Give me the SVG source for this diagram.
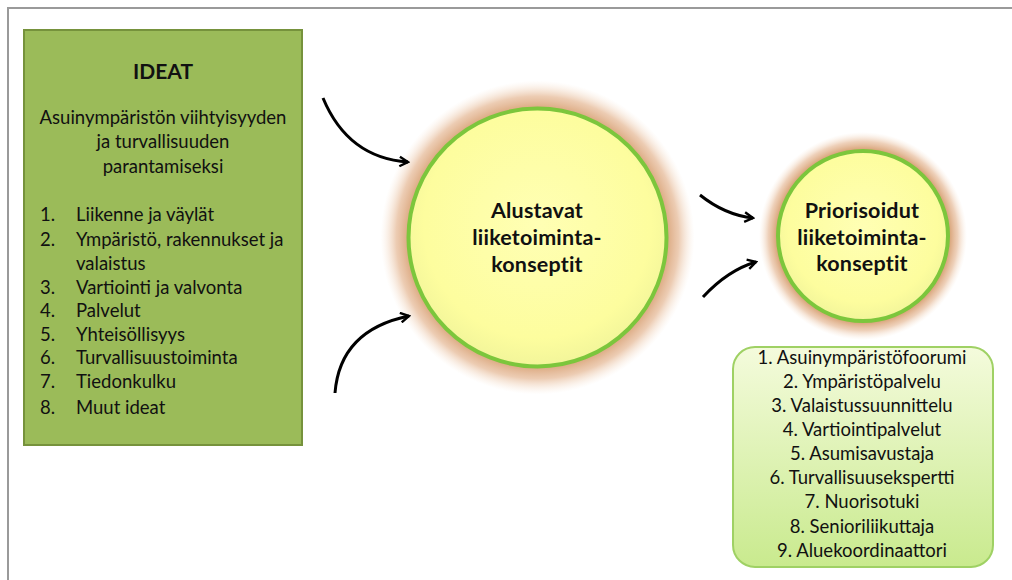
<svg xmlns="http://www.w3.org/2000/svg" width="1012" height="580" viewBox="0 0 1012 580">
<defs>
<style>
text{font-family:Lato,"Open Sans","Liberation Sans",sans-serif;fill:#111}
.b{font-weight:bold}
.c{text-anchor:middle}
.t{font-size:18.5px}
.h{font-size:21.5px;font-weight:bold;text-anchor:middle;letter-spacing:0.2px}
.arrow{fill:none;stroke:#000;stroke-width:3;marker-end:url(#ah)}
</style>
<radialGradient id="glow1" cx="0.5" cy="0.5" r="0.5">
<stop offset="0.8" stop-color="#d0915e" stop-opacity="0.9"/>
<stop offset="0.9" stop-color="#e0aa80" stop-opacity="0.6"/>
<stop offset="1" stop-color="#f5dcc4" stop-opacity="0"/>
</radialGradient>
<radialGradient id="glow2" cx="0.5" cy="0.5" r="0.5">
<stop offset="0.82" stop-color="#d0915e" stop-opacity="0.9"/>
<stop offset="0.91" stop-color="#e0aa80" stop-opacity="0.55"/>
<stop offset="1" stop-color="#f5dcc4" stop-opacity="0"/>
</radialGradient>
<radialGradient id="fillY" cx="0.5" cy="0.45" r="0.55">
<stop offset="0" stop-color="#ffffb4"/>
<stop offset="0.8" stop-color="#fdfd9e"/>
<stop offset="1" stop-color="#f2f59a"/>
</radialGradient>
<linearGradient id="boxG" x1="0" y1="0" x2="0" y2="1">
<stop offset="0" stop-color="#f4fbdc"/>
<stop offset="1" stop-color="#c9ea8e"/>
</linearGradient>
<marker id="ah" viewBox="0 0 10 10" refX="8" refY="5" markerWidth="4" markerHeight="4" orient="auto" markerUnits="strokeWidth">
<path d="M1,1 L8,5 L1,9" fill="none" stroke="#000" stroke-width="2"/>
</marker>
</defs>
<rect x="0" y="0" width="1012" height="580" fill="#fff"/>
<path d="M8,580 V8 H1012" fill="none" stroke="#9a9a9a" stroke-width="2"/>

<g id="ideat">
<rect x="24" y="30" width="278" height="415" fill="#9bbb59" stroke="#76923c" stroke-width="2"/>
<text x="163" y="79" class="b c" font-size="21">IDEAT</text>
<text x="163" y="124" class="c t">Asuinympäristön viihtyisyyden</text>
<text x="163" y="148" class="c t">ja turvallisuuden</text>
<text x="163" y="173" class="c t">parantamiseksi</text>
<g class="t">
<text x="40" y="221">1.</text><text x="76" y="221">Liikenne ja väylät</text>
<text x="40" y="246">2.</text><text x="76" y="246">Ympäristö, rakennukset ja</text>
<text x="76" y="270">valaistus</text>
<text x="40" y="294">3.</text><text x="76" y="294">Vartiointi ja valvonta</text>
<text x="40" y="317">4.</text><text x="76" y="317">Palvelut</text>
<text x="40" y="341">5.</text><text x="76" y="341">Yhteisöllisyys</text>
<text x="40" y="364">6.</text><text x="76" y="364">Turvallisuustoiminta</text>
<text x="40" y="388">7.</text><text x="76" y="388">Tiedonkulku</text>
<text x="40" y="414">8.</text><text x="76" y="414">Muut ideat</text>
</g>
</g>

<g id="alustavat">
<circle cx="537.5" cy="237.5" r="157" fill="url(#glow1)"/>
<circle cx="537.5" cy="237.5" r="129" fill="url(#fillY)" stroke="#7cc63c" stroke-width="4"/>
<text x="537" y="218" class="h">Alustavat</text>
<text x="537" y="245" class="h">liiketoiminta-</text>
<text x="537" y="272" class="h">konseptit</text>
</g>

<g id="priorisoidut">
<circle cx="863" cy="236" r="104" fill="url(#glow2)"/>
<circle cx="863" cy="236" r="85" fill="url(#fillY)" stroke="#7cc63c" stroke-width="4"/>
<text x="862" y="218" class="h">Priorisoidut</text>
<text x="862" y="245" class="h">liiketoiminta-</text>
<text x="862" y="271" class="h">konseptit</text>
</g>

<g id="lista">
<rect x="733" y="347" width="260" height="220" rx="22" fill="url(#boxG)" stroke="#9fd164" stroke-width="2"/>
<g class="c t">
<text x="862" y="364">1. Asuinympäristöfoorumi</text>
<text x="862" y="388">2. Ympäristöpalvelu</text>
<text x="862" y="412">3. Valaistussuunnittelu</text>
<text x="862" y="436">4. Vartiointipalvelut</text>
<text x="862" y="460">5. Asumisavustaja</text>
<text x="862" y="484">6. Turvallisuusekspertti</text>
<text x="862" y="508">7. Nuorisotuki</text>
<text x="862" y="533">8. Senioriliikuttaja</text>
<text x="862" y="557">9. Aluekoordinaattori</text>
</g>
</g>

<g id="connectors">
<path class="arrow" d="M323,98 Q348,158 408,162"/>
<path class="arrow" d="M335,393 Q340,330 409,316"/>
<path class="arrow" d="M700,195 Q725,215 753,218"/>
<path class="arrow" d="M703,297 Q728,270 756,262"/>
</g>
</svg>
